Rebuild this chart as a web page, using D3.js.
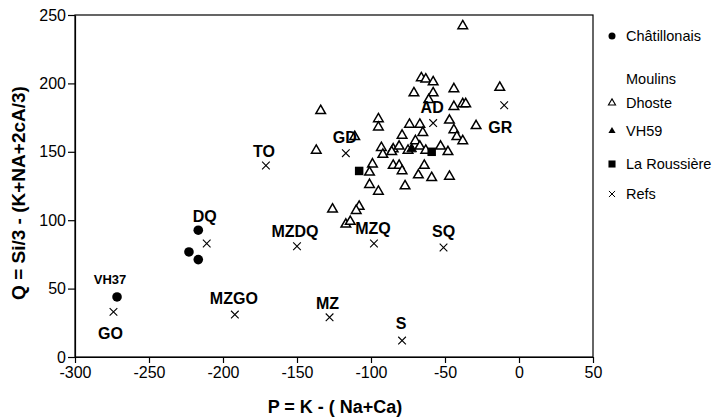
<!DOCTYPE html>
<html lang="en">
  <head>
    <meta charset="utf-8" />
    <style type="text/css">
      body {
        margin: 0;
        background: #fff;
      }
      svg {
        display: block;
        font-family: "Liberation Sans", Arial, sans-serif;
      }
      .axis path,
      .axis line {
        stroke: #000;
        stroke-width: 1.2px;
      }
      .axis text {
        font-size: 16px;
        fill: #000;
      }
      .lbl {
        font-weight: bold;
        font-size: 16px;
      }
    </style>
  </head>
  <body>
    <svg width="724" height="418"></svg>

    <script src="https://d3js.org/d3.v7.min.js"></script>
    <script type="text/javascript">
      // ---- data ----
      var xTicks = [-300, -250, -200, -150, -100, -50, 0, 50];
      var yTicks = [0, 50, 100, 150, 200, 250];

      var chatillonais = [
        [-271.6, 43.9],
        [-216.7, 92.7],
        [-223, 76.8],
        [-216.7, 71.2],
      ];
      var chatillonaisNames = ["VH37", "", "", ""];

      var dhoste = [
        [-38, 242], [-66, 204], [-63, 203], [-58, 201], [-71, 193], [-58, 193],
        [-44, 196], [-13, 197], [-61, 188], [-44, 183], [-38, 185], [-36, 185],
        [-134, 180], [-95, 174], [-95, 168], [-74, 170], [-67, 170], [-47, 173],
        [-29, 169], [-65, 164], [-44, 166], [-79, 162], [-42, 161], [-38, 158],
        [-70, 158], [-111, 161], [-137, 151], [-93, 153], [-85, 152], [-81, 154],
        [-67, 154], [-63, 151], [-53, 154], [-48, 150], [-92, 148], [-86, 150],
        [-75, 151], [-99, 141], [-101, 135], [-85, 140], [-81, 140], [-79, 136],
        [-64, 140], [-68, 133], [-59, 131], [-47, 132], [-101, 126], [-95, 121],
        [-77, 125], [-126, 108], [-108, 110], [-110, 107], [-117, 97], [-114, 99],
      ];
      var vh59 = [[-72.5, 152]];
      var laRoussiere = [[-59, 150], [-108, 136]];

      var refNames = ["GO", "DQ", "MZGO", "MZDQ", "MZ", "TO", "GD", "MZQ", "S", "SQ", "AD", "GR"];
      var refP = [-274, -211, -192, -150, -128, -171, -117, -98, -79, -51, -58, -10];
      var refQ = [33, 83, 31, 81, 29, 140, 149, 83, 12, 80, 171, 184];

      var legendNames = ["Châtillonais", "Moulins", "Dhoste", "VH59", "La Roussière", "Refs"];

      // label placement (px offsets from the mark)
      var labelOffset = {
        GO: [-3, 22], DQ: [-2, -27], MZGO: [-1, -16], MZDQ: [-2, -15],
        MZ: [-2, -14], TO: [-2, -14], GD: [-1, -16], MZQ: [-1, -15],
        S: [-1, -17], SQ: [0, -16], AD: [-1, -16], GR: [-4, 22],
      };

      var svg = d3.select("svg");
      var margin = { left: 75, top: 15, right: 131, bottom: 61 };
      var width = 724 - margin.left - margin.right,
        height = 418 - margin.top - margin.bottom;

      var x = d3.scaleLinear().domain([-300, 50]).range([0, width]);
      var y = d3.scaleLinear().domain([0, 250]).range([height, 0]);

      var g = svg
        .append("g")
        .attr("transform", "translate(" + margin.left + "," + margin.top + ")");

      // frame
      g.append("rect")
        .attr("width", width)
        .attr("height", height)
        .attr("fill", "none")
        .attr("stroke", "#000")
        .attr("stroke-width", 1.2);

      var plain = (d) => String(d);

      g.append("g")
        .attr("class", "axis")
        .attr("transform", "translate(0," + height + ")")
        .call(d3.axisBottom(x).tickValues(xTicks).tickFormat(plain)
          .tickSize(6).tickPadding(4).tickSizeOuter(0));

      g.append("g")
        .attr("class", "axis")
        .call(d3.axisLeft(y).tickValues(yTicks).tickFormat(plain)
          .tickSize(7).tickPadding(2).tickSizeOuter(0));

      // axis titles
      svg.append("text")
        .attr("x", 335)
        .attr("y", 413)
        .attr("text-anchor", "middle")
        .style("font-weight", "bold")
        .style("font-size", "18px")
        .text("P = K - ( Na+Ca)");

      svg.append("text")
        .attr("transform", "translate(25,193) rotate(-90)")
        .attr("text-anchor", "middle")
        .style("font-weight", "bold")
        .style("font-size", "19px")
        .text("Q = Si/3 - (K+NA+2cA/3)");

      var tri = d3.symbol().type(d3.symbolTriangle).size(40);
      var sq = d3.symbol().type(d3.symbolSquare).size(72);
      var cross = d3.symbol().type(d3.symbolX).size(40);

      // Dhoste: open triangles
      g.selectAll(".dh")
        .data(dhoste)
        .enter()
        .append("path")
        .attr("d", tri)
        .attr("transform", (d) => "translate(" + x(d[0]) + "," + y(d[1]) + ")")
        .attr("fill", "#fff")
        .attr("stroke", "#000")
        .attr("stroke-width", 1.5);

      // VH59
      g.selectAll(".vh")
        .data(vh59)
        .enter()
        .append("path")
        .attr("d", tri)
        .attr("transform", (d) => "translate(" + x(d[0]) + "," + y(d[1]) + ")")
        .attr("fill", "#000")
        .attr("stroke", "#000");

      // La Roussiere
      g.selectAll(".lr")
        .data(laRoussiere)
        .enter()
        .append("path")
        .attr("d", sq)
        .attr("transform", (d) => "translate(" + x(d[0]) + "," + y(d[1]) + ")")
        .attr("fill", "#000");

      // Chatillonais
      g.selectAll(".ch")
        .data(chatillonais)
        .enter()
        .append("circle")
        .attr("cx", (d) => x(d[0]))
        .attr("cy", (d) => y(d[1]))
        .attr("r", 4.8)
        .attr("fill", "#000");

      g.selectAll(".chl")
        .data(chatillonais.filter((d, i) => chatillonaisNames[i]))
        .enter()
        .append("text")
        .attr("x", (d) => x(d[0]) - 7)
        .attr("y", (d) => y(d[1]) - 13)
        .attr("text-anchor", "middle")
        .style("font-weight", "bold")
        .style("font-size", "13px")
        .text((d, i) => chatillonaisNames.filter((n) => n)[i]);

      // Refs
      var refs = refNames.map((n, i) => ({ name: n, p: refP[i], q: refQ[i] }));

      g.selectAll(".ref")
        .data(refs)
        .enter()
        .append("path")
        .attr("d", cross)
        .attr("transform", (d) => "translate(" + x(d.p) + "," + y(d.q) + ")")
        .attr("fill", "none")
        .attr("stroke", "#000")
        .attr("stroke-width", 1.1);

      g.selectAll(".refl")
        .data(refs)
        .enter()
        .append("text")
        .attr("class", "lbl")
        .attr("x", (d) => x(d.p) + labelOffset[d.name][0])
        .attr("y", (d) => y(d.q) + labelOffset[d.name][1] + 5.5)
        .attr("text-anchor", "middle")
        .text((d) => d.name);

      // legend
      var legY = [36, 79, 103, 131, 164, 194];
      var leg = svg.append("g");
      legendNames.forEach(function (n, i) {
        leg.append("text")
          .attr("x", 626)
          .attr("y", legY[i] + 5)
          .style("font-size", "14.5px")
          .text(n);
      });
      leg.append("circle").attr("cx", 612).attr("cy", legY[0]).attr("r", 3.5).attr("fill", "#000");
      var ltri = d3.symbol().type(d3.symbolTriangle).size(22);
      leg.append("path").attr("d", ltri)
        .attr("transform", "translate(612," + legY[2] + ")")
        .attr("fill", "#fff").attr("stroke", "#000").attr("stroke-width", 1.1);
      leg.append("path").attr("d", ltri)
        .attr("transform", "translate(612," + legY[3] + ")")
        .attr("fill", "#000");
      leg.append("path").attr("d", d3.symbol().type(d3.symbolSquare).size(50))
        .attr("transform", "translate(612," + legY[4] + ")")
        .attr("fill", "#000");
      leg.append("path").attr("d", d3.symbol().type(d3.symbolX).size(26))
        .attr("transform", "translate(612," + legY[5] + ")")
        .attr("fill", "none").attr("stroke", "#000").attr("stroke-width", 1);
    </script>
  </body>
</html>
